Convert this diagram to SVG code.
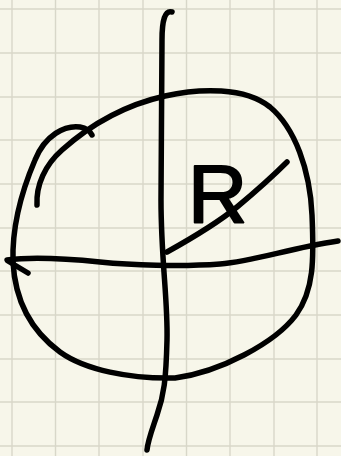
<svg xmlns="http://www.w3.org/2000/svg" width="341" height="456" viewBox="0 0 341 456">
<style>
.grid{stroke:#d8d7c9;stroke-width:1.4}
.ink{fill:none;stroke:#000;stroke-width:5.5;stroke-linecap:round;stroke-linejoin:round}
.lbl{font-family:"Liberation Sans",Arial,sans-serif;font-size:82px;fill:#000;stroke:#000;stroke-width:2;stroke-linejoin:round}
</style>
<rect width="341" height="456" fill="#f7f6ea"/>
<g id="grid" class="grid">
<line x1="12" y1="0" x2="12" y2="456"/><line x1="55.5" y1="0" x2="55.5" y2="456"/><line x1="99" y1="0" x2="99" y2="456"/><line x1="143" y1="0" x2="143" y2="456"/><line x1="186.5" y1="0" x2="186.5" y2="456"/><line x1="230" y1="0" x2="230" y2="456"/><line x1="274" y1="0" x2="274" y2="456"/><line x1="317" y1="0" x2="317" y2="456"/>
<line x1="0" y1="9" x2="341" y2="9"/><line x1="0" y1="53" x2="341" y2="53"/><line x1="0" y1="97" x2="341" y2="97"/><line x1="0" y1="140" x2="341" y2="140"/><line x1="0" y1="184" x2="341" y2="184"/><line x1="0" y1="228" x2="341" y2="228"/><line x1="0" y1="271" x2="341" y2="271"/><line x1="0" y1="315" x2="341" y2="315"/><line x1="0" y1="359" x2="341" y2="359"/><line x1="0" y1="402" x2="341" y2="402"/><line x1="0" y1="446" x2="341" y2="446"/>
</g>
<g id="circle">
<path class="ink" d="M37,205 C36,185 45,165 62,150 C90,125 125,105 165,96 C200,88 245,87 270,107 C295,128 310,170 312,215 C314,260 314,290 296,315 C275,343 220,372 175,378 C130,379 85,370 60,352 C30,330 15,300 13,262 C12,230 20,195 35,160 C45,135 65,125 80,127 C86,128 90,131 92,135"/>
</g>
<g id="axes">
<path class="ink" d="M172,12 C165,10 162,20 162,40 L161,200 C161,260 168,300 167,340 C166,380 164,395 157,415 C152,430 148,440 147,450"/>
<path class="ink" d="M7,260 C30,257 60,258 100,262 C130,265 180,267 220,264 C255,261 290,248 338,241"/>
<path class="ink" d="M8,261 L28,273"/>
</g>
<g id="radius">
<path class="ink" d="M167,252 C185,242 215,225 237,207 C255,192 272,177 287,162"/>
<text class="lbl" x="188" y="222">R</text>
</g>
</svg>
